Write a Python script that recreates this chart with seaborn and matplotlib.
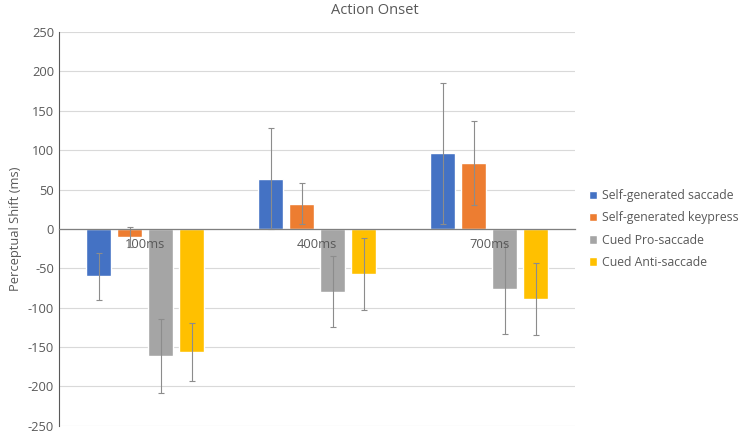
import seaborn as sns
import numpy as np
import pandas as pd
import matplotlib.pyplot as plt

delays = ['100ms', '400ms', '700ms']
conditions = ['Self-generated saccade', 'Self-generated keypress',
              'Cued Pro-saccade', 'Cued Anti-saccade']
colors = ['#4472C4', '#ED7D31', '#A5A5A5', '#FFC000']

# one list per condition, values in delay order
saccade = [-60, 64, 96]
keypress = [-10, 32, 84]
pro_saccade = [-162, -80, -76]
anti_saccade = [-156, -57, -89]

saccade_err = [30, 64, 90]
keypress_err = [13, 26, 53]
pro_saccade_err = [47, 45, 58]
anti_saccade_err = [37, 46, 46]

means = [saccade, keypress, pro_saccade, anti_saccade]
errs = [saccade_err, keypress_err, pro_saccade_err, anti_saccade_err]

df = pd.DataFrame({
    'delay': delays * len(conditions),
    'condition': [c for c in conditions for _ in delays],
    'shift': np.concatenate(means),
})

sns.set_style('white')
plt.rcParams['font.family'] = ['Open Sans', 'DejaVu Sans']
plt.rcParams['axes.unicode_minus'] = False
txt = '#595959'

fig = plt.figure(figsize=(7.49, 4.34), dpi=100)
ax = fig.add_axes([0.0788, 0.019, 0.6892, 0.907])

sns.barplot(data=df, x='delay', y='shift', hue='condition', order=delays,
            hue_order=conditions, palette=colors, width=0.72, gap=0.19,
            errorbar=None, saturation=1, ax=ax, zorder=2)

# error bars at the end of each bar
for cont, e in zip(ax.containers, errs):
    xs = [b.get_x() + b.get_width() / 2 for b in cont]
    ys = [b.get_y() + b.get_height() if b.get_y() == 0 else b.get_y() for b in cont]
    ax.errorbar(xs, ys, yerr=e, fmt='none', ecolor='#8c8c8c', elinewidth=0.8,
                capsize=2, capthick=0.8, zorder=3)

ax.set_ylim(-250, 250)
ax.set_yticks(np.arange(-250, 251, 50))
ax.set_xlim(-0.5, 2.5)
ax.yaxis.grid(True, color='#D9D9D9', linewidth=0.8, zorder=0)
ax.set_axisbelow(True)

for s in ['top', 'right']:
    ax.spines[s].set_visible(False)
ax.spines['left'].set_color('#595959')
ax.spines['left'].set_linewidth(0.8)
ax.spines['bottom'].set_position(('data', 0))
ax.spines['bottom'].set_color('#7f7f7f')
ax.spines['bottom'].set_linewidth(0.9)
ax.spines['bottom'].set_zorder(4)

# category labels sit just under the zero line, drawn over the bars
ax.set_xticks(range(len(delays)))
ax.set_xticklabels([])
for i, d in enumerate(delays):
    ax.text(i, -12, d, ha='center', va='top', color=txt, fontsize=9.3, zorder=5)

ax.tick_params(axis='both', length=0, colors=txt, labelsize=9.3)
ax.set_xlabel('')
ax.set_ylabel('Perceptual Shift (ms)', color=txt, fontsize=9.3, labelpad=4)

fig.text(0.5, 0.975, 'Action Onset', ha='center', va='center', color=txt, fontsize=10.5)

ax.legend(loc='center left', bbox_to_anchor=(1.005, 0.5), frameon=False,
          handlelength=0.7, handleheight=0.7, handletextpad=0.35,
          labelspacing=0.75, fontsize=8.8, labelcolor=txt, title=None)

fig.savefig('out.png', dpi=100)
